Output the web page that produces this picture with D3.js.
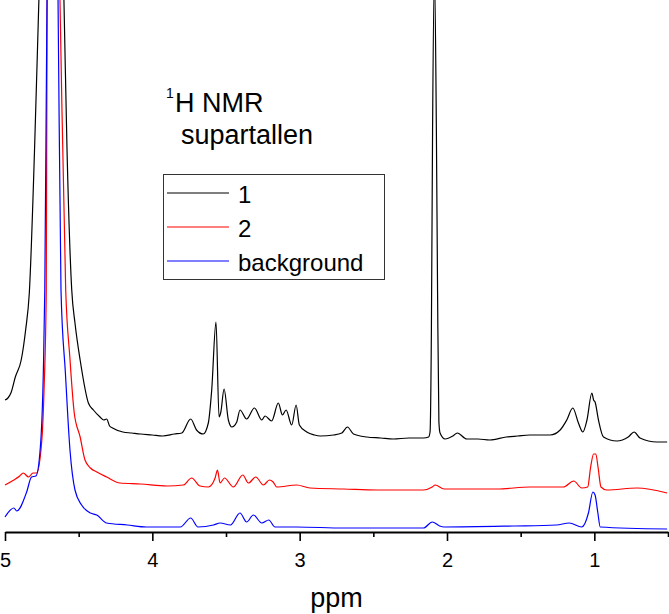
<!DOCTYPE html>
<html>
<head>
<meta charset="utf-8">
<script src="https://cdn.jsdelivr.net/npm/d3@7"></script>
<style>
  body { margin: 0; background: #fff; }
  svg { display: block; font-family: "Liberation Sans", Arial, sans-serif; }
</style>
</head>
<body>
<div id="chart"></div>
<script>
// spectra: [ppm, intensity above the axis (a.u., stacked offset included)]
const trace1 = [
  [5.00, 132], [4.98, 134], [4.96, 139], [4.93, 155], [4.89, 172], [4.86, 202], [4.835, 239], [4.80, 380], [4.77, 532],
  [4.69, 900], [4.60, 532], [4.579, 382], [4.547, 242], [4.525, 209], [4.49, 172], [4.434, 129], [4.40, 122],
  [4.355, 115], [4.33, 112], [4.31, 113], [4.29, 106], [4.27, 104], [4.20, 100], [4.14, 99], [4.08, 98], [4.00, 97],
  [3.93, 96], [3.85, 98], [3.80, 99], [3.74, 113], [3.70, 102], [3.655, 98], [3.62, 109], [3.597, 142], [3.568, 210],
  [3.547, 115], [3.535, 120], [3.513, 143], [3.484, 112], [3.46, 105], [3.427, 110], [3.405, 122], [3.36, 113],
  [3.307, 124], [3.257, 112], [3.235, 116], [3.19, 111], [3.145, 129], [3.117, 117], [3.092, 122], [3.054, 107],
  [3.024, 127], [3.002, 107], [2.952, 100], [2.90, 97], [2.86, 96], [2.77, 97], [2.714, 99], [2.676, 105], [2.635, 98],
  [2.544, 95], [2.45, 94], [2.364, 93], [2.26, 94], [2.16, 94], [2.125, 95], [2.115, 100], [2.106, 200], [2.098, 400],
  [2.085, 560], [2.072, 400], [2.064, 240], [2.055, 110], [2.047, 99], [2.013, 93], [1.96, 96], [1.93, 99], [1.866, 93],
  [1.79, 93], [1.71, 92], [1.597, 95], [1.52, 96], [1.44, 97], [1.30, 97], [1.232, 102], [1.187, 112], [1.146, 124],
  [1.108, 109], [1.078, 100], [1.05, 112], [1.017, 139], [1.005, 132], [0.995, 130], [0.972, 112], [0.938, 95],
  [0.848, 91], [0.77, 95], [0.73, 100], [0.69, 94], [0.576, 90], [0.506, 90]
];

const trace2 = [
  [5.00, 47], [4.94, 52], [4.90, 56], [4.876, 59], [4.84, 55], [4.81, 59], [4.785, 59], [4.75, 92],
  [4.735, 142], [4.72, 242], [4.714, 532], [4.68, 900], [4.627, 532], [4.588, 242], [4.56, 175], [4.53, 119],
  [4.49, 95], [4.457, 72], [4.42, 64], [4.377, 60], [4.31, 55], [4.22, 49], [4.08, 48], [3.90, 46],
  [3.79, 47], [3.733, 54], [3.676, 46], [3.62, 45], [3.574, 54], [3.558, 62], [3.54, 49], [3.51, 54],
  [3.45, 45], [3.386, 57], [3.348, 49], [3.298, 55], [3.246, 47], [3.205, 52], [3.18, 50], [3.156, 45],
  [3.02, 47], [2.93, 44], [2.70, 43], [2.477, 42], [2.16, 42], [2.10, 45], [2.08, 47], [2.02, 43],
  [1.66, 43], [1.436, 45], [1.21, 45], [1.14, 51], [1.085, 44], [1.045, 45], [1.025, 65], [1.005, 78],
  [0.99, 78], [0.975, 65], [0.955, 45], [0.915, 42], [0.711, 44], [0.506, 39]
];

const traceBackground = [
  [5.00, 15], [4.94, 24], [4.92, 21], [4.853, 40], [4.82, 55], [4.79, 56], [4.76, 85], [4.74, 159],
  [4.73, 242], [4.715, 532], [4.68, 900], [4.64, 532], [4.62, 242], [4.59, 159], [4.559, 82], [4.525, 42],
  [4.48, 27], [4.42, 19], [4.377, 17], [4.31, 9], [4.17, 7], [4.04, 5], [3.81, 5], [3.74, 14],
  [3.69, 5], [3.585, 7], [3.54, 9], [3.47, 7], [3.405, 19], [3.36, 10], [3.314, 17], [3.257, 9],
  [3.21, 12], [3.167, 5], [3.02, 5], [2.70, 4], [2.16, 4], [2.10, 10], [2.05, 6], [2.02, 5],
  [1.55, 6], [1.257, 7], [1.17, 9], [1.085, 5], [1.04, 19], [1.01, 40], [0.995, 37], [0.976, 19],
  [0.96, 5], [0.506, 3]
];

const seriesNames = ["1", "2", "background"];
const seriesColors = ["#000000", "#ff0000", "#0000ff"];
const majorTicks = [5, 4, 3, 2, 1];
const minorTicks = [4.5, 3.5, 2.5, 1.5, 0.5];

const width = 669;
const height = 614;
const axisY = 532;

const svg = d3.select("#chart")
  .append("svg")
  .attr("width", width)
  .attr("height", height);

const xScale = d3.scaleLinear()
  .domain([5, 0.5])
  .range([5, 668]);

const yScale = d3.scaleLinear()
  .domain([0, axisY])
  .range([axisY, 0]);

svg.append("clipPath")
  .attr("id", "plot-clip")
  .append("rect")
  .attr("x", 0).attr("y", 0)
  .attr("width", width).attr("height", axisY);

// monotone keeps the peaks rounded like the spectrometer trace
const line = d3.line()
  .x(d => xScale(d[0]))
  .y(d => yScale(d[1]))
  .curve(d3.curveMonotoneX);

const traces = [trace1, trace2, traceBackground];

svg.append("g")
  .attr("clip-path", "url(#plot-clip)")
  .selectAll("path")
  .data(traces)
  .join("path")
    .attr("d", d => line(d))
    .attr("fill", "none")
    .attr("stroke", (d, i) => seriesColors[i])
    .attr("stroke-width", 1.2)
    .attr("stroke-linejoin", "round");

// x axis, major + minor ticks
const bottomAxis = d3.axisBottom(xScale)
  .tickValues(majorTicks)
  .tickFormat(d3.format("d"))
  .tickSize(9)
  .tickSizeOuter(0)
  .tickPadding(12);

const axisG = svg.append("g")
  .attr("transform", `translate(0, ${axisY})`)
  .call(bottomAxis);

axisG.select(".domain").attr("stroke", "#000").attr("stroke-width", 2);
axisG.selectAll(".tick line").attr("stroke", "#000").attr("stroke-width", 1.6);
axisG.selectAll(".tick text")
  .attr("fill", "#000")
  .style("font-size", "20px")
  .style("font-family", "Liberation Sans, Arial, sans-serif");

const minorAxis = d3.axisBottom(xScale)
  .tickValues(minorTicks)
  .tickFormat("")
  .tickSize(5)
  .tickSizeOuter(0);

const minorG = svg.append("g")
  .attr("transform", `translate(0, ${axisY})`)
  .call(minorAxis);
minorG.select(".domain").remove();
minorG.selectAll(".tick line").attr("stroke", "#000").attr("stroke-width", 1.6);

svg.append("text")
  .attr("x", (xScale.range()[0] + xScale.range()[1]) / 2)
  .attr("y", 607)
  .attr("text-anchor", "middle")
  .style("font-size", "27px")
  .text("ppm");

// title block
svg.append("text")
  .attr("x", 166)
  .attr("y", 98)
  .style("font-size", "14px")
  .text("1");
svg.append("text")
  .attr("x", 175)
  .attr("y", 112)
  .style("font-size", "27px")
  .text("H NMR");
svg.append("text")
  .attr("x", 181)
  .attr("y", 143.5)
  .style("font-size", "27px")
  .text("supartallen");

// legend
const legend = svg.append("g").attr("class", "legend");
legend.append("rect")
  .attr("x", 163.5)
  .attr("y", 174.5)
  .attr("width", 221)
  .attr("height", 105)
  .attr("fill", "#fff")
  .attr("stroke", "#333")
  .attr("stroke-width", 1);

const legendItems = legend.selectAll(".legend-item")
  .data(seriesNames)
  .join("g")
    .attr("class", "legend-item")
    .attr("transform", (d, i) => `translate(0, ${193 + i * 34})`);

legendItems.append("line")
  .attr("x1", 167).attr("x2", 229)
  .attr("y1", 0).attr("y2", 0)
  .attr("stroke", (d, i) => seriesColors[i])
  .attr("stroke-width", 1.1);

legendItems.append("text")
  .attr("x", 238)
  .attr("y", 9.5)
  .style("font-size", "24px")
  .text(d => d);
</script>
</body>
</html>
